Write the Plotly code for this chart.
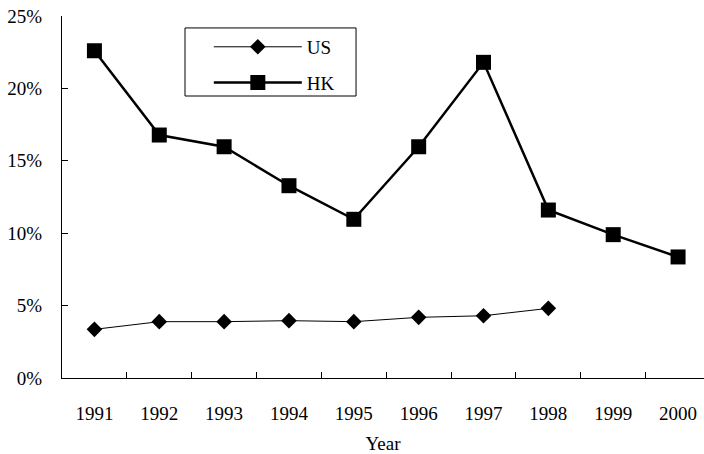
import plotly.graph_objects as go

years = ["1991", "1992", "1993", "1994", "1995", "1996", "1997", "1998", "1999", "2000"]

us_rate = [0.0336, 0.0389, 0.0389, 0.0396, 0.0389, 0.0419, 0.0430, 0.0481]
hk_rate = [0.226, 0.1678, 0.1597, 0.1328, 0.1096, 0.1597, 0.218, 0.116, 0.099, 0.0836]

font_name = "Liberation Serif, Times New Roman, serif"

fig = go.Figure()

fig.add_trace(go.Scatter(
    x=years[:len(us_rate)],
    y=us_rate,
    name="US",
    legendgroup="us",
    mode="lines+markers",
    line=dict(color="black", width=1),
    marker=dict(symbol="diamond", size=12, color="black")
))

fig.add_trace(go.Scatter(
    x=years,
    y=hk_rate,
    name="HK",
    legendgroup="hk",
    mode="lines+markers",
    line=dict(color="black", width=2.5),
    marker=dict(symbol="square", size=15, color="black")
))

# legend frame drawn as a shape so its size matches the original box
fig.add_shape(
    type="rect",
    xref="paper", yref="paper",
    x0=0.1916, x1=0.458, y0=0.779, y1=0.967,
    line=dict(color="black", width=1),
    fillcolor="white",
    layer="below"
)

fig.update_layout(
    width=704,
    height=454,
    paper_bgcolor="white",
    plot_bgcolor="white",
    margin=dict(l=62, r=0, t=16, b=76),
    font=dict(family=font_name, size=19, color="black"),
    legend=dict(
        x=0.2287,
        y=0.967,
        xanchor="left",
        yanchor="top",
        borderwidth=0,
        bgcolor="rgba(0,0,0,0)",
        itemwidth=88,
        traceorder="grouped",
        tracegroupgap=8,
        font=dict(family=font_name, size=19)
    ),
    xaxis=dict(
        type="category",
        range=[-0.5, 9.4],
        tickson="boundaries",
        ticks="inside",
        ticklen=6,
        tickcolor="black",
        showline=True,
        linecolor="black",
        linewidth=1,
        showgrid=False,
        automargin=False,
        ticklabelstandoff=18,
        title=dict(text="Year", standoff=22, font=dict(size=19))
    ),
    yaxis=dict(
        range=[0, 0.25],
        dtick=0.05,
        tickformat=".0%",
        ticks="inside",
        ticklen=6,
        tickcolor="black",
        showline=True,
        linecolor="black",
        linewidth=1,
        showgrid=False,
        zeroline=False,
        automargin=False,
        ticklabelstandoff=15
    )
)

# drop the browser's default body margin so the figure sits at the page corner
fig.write_html(
    "out.html",
    config={"displayModeBar": False},
    post_script="document.body.style.margin = '0';"
)
